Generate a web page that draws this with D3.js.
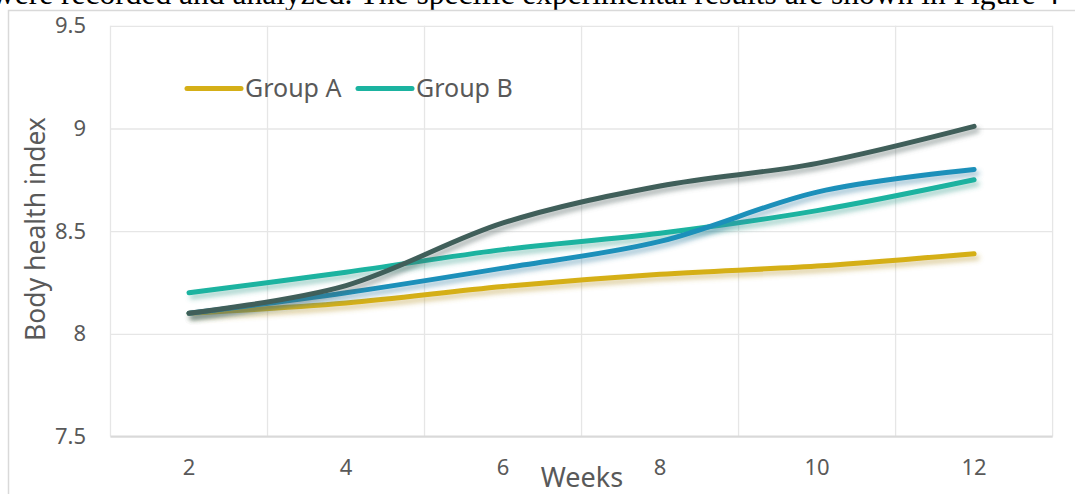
<!DOCTYPE html>
<html>
<head>
<meta charset="utf-8">
<script src="https://cdn.jsdelivr.net/npm/d3@7"></script>
<style>
  html, body { margin: 0; padding: 0; background: #fff; }
  svg { display: block; }
</style>
</head>
<body>
<svg id="chart" width="1075" height="494"></svg>
<script>
// Weekly body health index for the four tracked groups
const weeks  = ["2", "4", "6", "8", "10", "12"];
const groupA = [8.10, 8.15, 8.23, 8.29, 8.33, 8.39];
const groupB = [8.20, 8.30, 8.41, 8.49, 8.60, 8.75];
const groupC = [8.10, 8.20, 8.32, 8.45, 8.69, 8.80];
const groupD = [8.10, 8.235, 8.54, 8.72, 8.83, 9.01];
const yTicks = [7.5, 8, 8.5, 9, 9.5];
const legendNames = ["Group A", "Group B"];
const captionText = "were recorded and analyzed. The specific experimental results are shown in Figure 4";

const series = [
  { name: "Group A", values: groupA, color: "#D5AF17" },
  { name: "Group B", values: groupB, color: "#1BB3A0" },
  { name: "Group C", values: groupC, color: "#1C90BA" },
  { name: "Group D", values: groupD, color: "#405E5A" }
];

const svg = d3.select("#chart");
const plot = { left: 110.5, right: 1052.6, top: 25.8, bottom: 436.5 };
const textColor = "#595959";
const font = "'Noto Sans', 'Open Sans', sans-serif";

// Running text of the page above the figure
svg.append("text")
  .attr("x", -8).attr("y", 4)
  .attr("font-family", "'Liberation Serif', 'Times New Roman', serif")
  .attr("font-size", 31.5)
  .attr("fill", "#000")
  .text(captionText);

// Figure frame
svg.append("path")
  .attr("d", "M8.5,494 V10.5 H1075")
  .attr("fill", "none")
  .attr("stroke", "#d9d9d9")
  .attr("stroke-width", 1.5);

const x = d3.scaleBand().domain(weeks).range([plot.left, plot.right]).padding(0);
const y = d3.scaleLinear().domain([7.5, 9.5]).range([plot.bottom, plot.top]);

// Drop shadow tinted by each line's own colour
const defs = svg.append("defs");
const f = defs.append("filter").attr("id", "lineShadow")
  .attr("x", "-5%").attr("y", "-20%").attr("width", "115%").attr("height", "150%");
f.append("feGaussianBlur").attr("in", "SourceGraphic").attr("stdDeviation", 2.8).attr("result", "blur");
f.append("feOffset").attr("in", "blur").attr("dx", 2.5).attr("dy", 4).attr("result", "off");
f.append("feColorMatrix").attr("in", "off").attr("type", "matrix")
  .attr("values", "0.7 0 0 0 0.04  0 0.7 0 0 0.04  0 0 0.7 0 0.04  0 0 0 0.5 0")
  .attr("result", "shadow");
const merge = f.append("feMerge");
merge.append("feMergeNode").attr("in", "shadow");
merge.append("feMergeNode").attr("in", "SourceGraphic");

// Horizontal gridlines
const yGrid = d3.axisLeft(y).tickValues(yTicks).tickSize(-(plot.right - plot.left)).tickFormat("");
svg.append("g")
  .attr("transform", `translate(${plot.left},0)`)
  .call(yGrid)
  .call(g => g.select(".domain").remove())
  .call(g => g.selectAll("line").attr("stroke", "#e6e6e6").attr("stroke-width", 1.3));

// Vertical gridlines at category boundaries
const edges = weeks.map(w => x(w)).concat([plot.right]);
svg.append("g")
  .selectAll("line").data(edges).join("line")
  .attr("x1", d => d).attr("x2", d => d)
  .attr("y1", plot.top).attr("y2", plot.bottom)
  .attr("stroke", "#e6e6e6").attr("stroke-width", 1.3);

// Category axis baseline
svg.append("line")
  .attr("x1", plot.left).attr("x2", plot.right)
  .attr("y1", y(7.5)).attr("y2", y(7.5))
  .attr("stroke", "#d9d9d9").attr("stroke-width", 1.8);

// Y tick labels
const yAxis = d3.axisLeft(y).tickValues(yTicks).tickSize(0).tickPadding(0).tickFormat(d3.format("~g"));
svg.append("g")
  .attr("transform", "translate(86,0)")
  .call(yAxis)
  .call(g => g.select(".domain").remove())
  .call(g => g.selectAll("text")
    .attr("font-family", font).attr("font-size", 22).attr("fill", textColor));

// X tick labels
const xAxis = d3.axisBottom(x).tickSize(0).tickPadding(0);
svg.append("g")
  .attr("transform", "translate(0,459)")
  .call(xAxis)
  .call(g => g.select(".domain").remove())
  .call(g => g.selectAll("text")
    .attr("font-family", font).attr("font-size", 22).attr("fill", textColor));

// Axis titles
svg.append("text")
  .attr("x", 582).attr("y", 487)
  .attr("text-anchor", "middle")
  .attr("font-family", font).attr("font-size", 27).attr("fill", textColor)
  .text("Weeks");

svg.append("text")
  .attr("transform", "translate(45,229) rotate(-90)")
  .attr("text-anchor", "middle")
  .attr("font-family", font).attr("font-size", 26.5).attr("fill", textColor)
  .text("Body health index");

// Smoothed series lines
const line = d3.line()
  .x((d, i) => x(weeks[i]) + x.bandwidth() / 2)
  .y(d => y(d))
  .curve(d3.curveCardinal.tension(0));

svg.append("g")
  .selectAll("path").data(series).join("path")
  .attr("d", d => line(d.values))
  .attr("fill", "none")
  .attr("stroke", d => d.color)
  .attr("stroke-width", 5)
  .attr("stroke-linecap", "round")
  .attr("stroke-linejoin", "round")
  .attr("filter", "url(#lineShadow)");

// Legend
const legendItems = series.filter(s => legendNames.includes(s.name));
const legendX = [187, 358];
const legend = svg.append("g");
legendItems.forEach((s, i) => {
  const g = legend.append("g").attr("transform", `translate(${legendX[i]},88.5)`);
  g.append("line")
    .attr("x1", 0).attr("x2", 54).attr("y1", 0).attr("y2", 0)
    .attr("stroke", s.color).attr("stroke-width", 5).attr("stroke-linecap", "round");
  g.append("text")
    .attr("x", 58).attr("y", 0).attr("dy", "0.35em")
    .attr("font-family", font).attr("font-size", 25).attr("fill", textColor)
    .text(s.name);
});
</script>
</body>
</html>
